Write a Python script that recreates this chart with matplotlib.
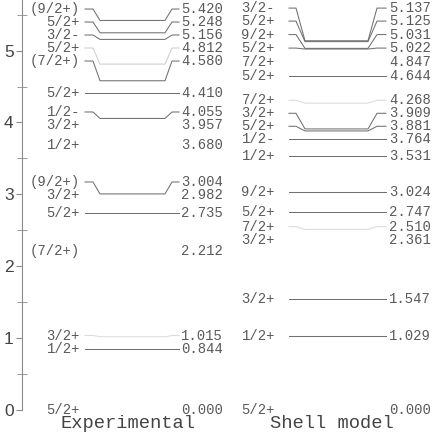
import matplotlib.pyplot as plt
from matplotlib.ticker import MultipleLocator

# level energies (MeV) and spins, top to bottom
exp_spins = ["(9/2+)", "5/2+", "3/2-", "5/2+", "(7/2+)", "5/2+", "1/2-", "3/2+",
             "1/2+", "(9/2+)", "3/2+", "5/2+", "(7/2+)", "3/2+", "1/2+", "5/2+"]
exp_energies = [5.420, 5.248, 5.156, 4.812, 4.580, 4.410, 4.055, 3.957,
                3.680, 3.004, 2.982, 2.735, 2.212, 1.015, 0.844, 0.000]

sm_spins = ["3/2-", "5/2+", "9/2+", "5/2+", "7/2+", "5/2+", "7/2+", "3/2+", "5/2+",
            "1/2-", "1/2+", "9/2+", "5/2+", "7/2+", "3/2+", "3/2+", "1/2+", "5/2+"]
sm_energies = [5.137, 5.125, 5.031, 5.022, 4.847, 4.644, 4.268, 3.909, 3.881,
               3.764, 3.531, 3.024, 2.747, 2.510, 2.361, 1.547, 1.029, 0.000]

# where the labels sit after spreading them apart (MeV)
exp_label_pos = [5.579, 5.398, 5.217, 5.036, 4.855, 4.410, 4.145, 3.957,
                 3.680, 3.170, 2.982, 2.735, 2.212, 1.032, 0.844, 0.000]
sm_label_pos = [5.592, 5.411, 5.223, 5.035, 4.847, 4.644, 4.308, 4.127, 3.946,
                3.764, 3.531, 3.024, 2.747, 2.549, 2.361, 1.547, 1.029, 0.000]

# how strongly each level line shows up
exp_alpha = [1, 1, 1, 0.35, 1, 1, 1, 0, 0, 1, 0, 1, 0, 0.25, 1, 0]
sm_alpha = [1, 1, 1, 1, 0, 1, 0.25, 1, 1, 1, 1, 1, 1, 0.25, 0, 1, 1, 0]

TEXT = "#5a5a5a"
LINE = "#707070"
MONO = "Liberation Mono"

fig = plt.figure(figsize=(4.36, 4.36), dpi=100)
# x data in pixels, y data in MeV
ax = fig.add_axes([22 / 436, 0, 414 / 436, 1])
ax.set_xlim(22, 436)
ax.set_ylim((409.6 - 436) / 71.8, 409.6 / 71.8)

for side in ["top", "right", "bottom"]:
    ax.spines[side].set_visible(False)
ax.spines["left"].set_color("#8a8a8a")
ax.spines["left"].set_bounds(0, 409.6 / 71.8)
ax.set_xticks([])

ax.yaxis.set_major_locator(MultipleLocator(1))
ax.yaxis.set_minor_locator(MultipleLocator(0.5))
ax.tick_params(axis="y", which="major", direction="out", length=4,
               color="#8a8a8a", labelsize=12.5, labelcolor="#444444", pad=2)
ax.tick_params(axis="y", which="minor", direction="inout", length=7,
               color="#8a8a8a")
for lbl in ax.get_yticklabels():
    lbl.set_fontfamily("Liberation Sans")


def draw_column(spins, energies, label_pos, alpha, xs, label_x, text_x):
    x0, x1, x2, x3, x4, x5 = xs
    for spin, en, lp, al in zip(spins, energies, label_pos, alpha):
        ax.text(label_x, lp, spin, ha="right", va="center", fontsize=10,
                family=MONO, color=TEXT)
        ax.text(text_x, lp, f"{en:.3f}", ha="left", va="center", fontsize=10,
                family=MONO, color=TEXT)
        if al > 0:
            ax.plot([x0, x1, x2, x3, x4, x5], [lp, lp, en, en, lp, lp],
                    color=LINE, lw=0.75, alpha=al)


draw_column(exp_spins, exp_energies, exp_label_pos, exp_alpha,
            (85, 93, 100, 165, 172, 179), 80, 181)
draw_column(sm_spins, sm_energies, sm_label_pos, sm_alpha,
            (289, 296, 305, 368, 377, 386), 275, 389)

ax.text(128, -0.2, "Experimental", ha="center", va="center", fontsize=13.5,
        family=MONO, color="#444444")
ax.text(332, -0.2, "Shell model", ha="center", va="center", fontsize=13.5,
        family=MONO, color="#444444")

fig.savefig("out.png", dpi=100)
